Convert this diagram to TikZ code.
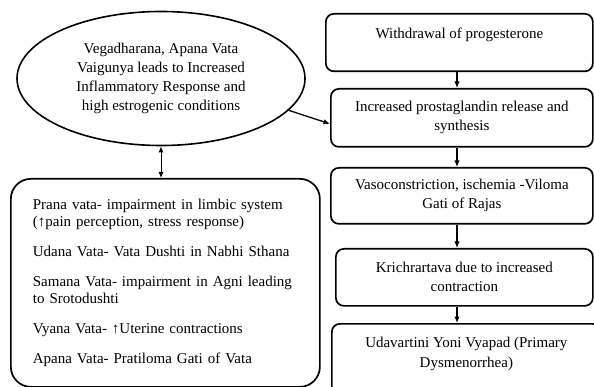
\documentclass[tikz,border=0pt]{standalone}
\usepackage{fontspec}
\setmainfont{Liberation Serif}
\usetikzlibrary{shapes.geometric,arrows.meta,positioning}

\begin{document}
\begin{tikzpicture}[x=1pt,y=-1pt,
  box/.style={draw,line width=1.7pt,rounded corners=8pt,anchor=north west,align=center,inner sep=0pt},
  flecha/.style={line width=1.3pt,-{Latex[length=6.5pt,width=5.5pt]}},
  font=\fontsize{15}{19}\selectfont]
  \clip (0,0) rectangle (594,387);
  \node[draw,ellipse,line width=1.6pt,minimum width=288pt,minimum height=134pt,inner sep=0pt,align=center] (vega) at (161,78.5)
    {Vegadharana, Apana Vata\\Vaigunya leads to Increased\\Inflammatory Response and\\high estrogenic conditions};
  \node[box,minimum width=267pt,inner ysep=14pt,text height=10.5pt,text depth=19pt] (retiro) at (325,13) {Withdrawal of progesterone};
  \node[box,minimum width=262pt,minimum height=58pt] (prosta) at (330,88) {Increased prostaglandin release and\\synthesis};
  \node[box,minimum width=262pt,minimum height=56pt] (vaso) at (330,167) {Vasoconstriction, ischemia -Viloma\\Gati of Rajas};
  \node[box,minimum width=257pt,minimum height=57pt] (krich) at (335,248) {Krichrartava due to increased\\contraction};
  \node[box,minimum width=269pt,inner ysep=13pt,text depth=60pt,font=\fontsize{15}{20}\selectfont] (udav) at (331,323) {Udavartini Yoni Vyapad (Primary\\Dysmenorrhea)};
  \node[box,rounded corners=20pt,align=left,text width=265pt,inner xsep=22pt,minimum height=208pt,font=\fontsize{15}{17}\selectfont] (vata) at (10,178)
    {Prana vata- impairment in limbic system\\(↑pain perception, stress response)\\[13pt]
     Udana Vata- Vata Dushti in Nabhi Sthana\\[13pt]
     Samana Vata- impairment in Agni leading\\to Srotodushti\\[13pt]
     Vyana Vata- ↑Uterine contractions\\[13pt]
     Apana Vata- Pratiloma Gati of Vata};
  \coordinate (eje) at (457,0);
  \draw[flecha] (retiro.south -| eje) -- (prosta.north -| eje);
  \draw[flecha] (prosta.south -| eje) -- (vaso.north -| eje);
  \draw[flecha] (vaso.south -| eje) -- (krich.north -| eje);
  \draw[flecha] (krich.south -| eje) -- (udav.north -| eje);
  \draw[flecha] (vega.-14) -- ([yshift=-6pt]prosta.west);
  \draw[line width=1pt,{Latex[length=6pt,width=5pt]}-{Latex[length=6pt,width=5pt]}] (vega.south) -- (vata.north -| vega.south);
\end{tikzpicture}
\end{document}
